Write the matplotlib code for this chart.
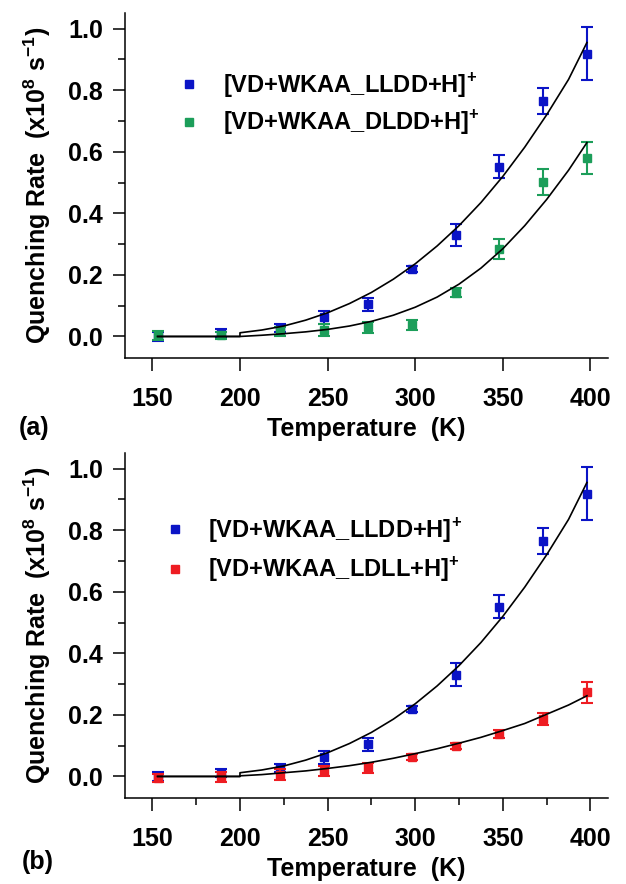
import numpy as np
import matplotlib
matplotlib.use('Agg')
import matplotlib.pyplot as plt
from matplotlib.ticker import MultipleLocator

plt.rcParams['font.family'] = ['Liberation Sans', 'DejaVu Sans']
plt.rcParams['font.weight'] = 'bold'
plt.rcParams['mathtext.fontset'] = 'custom'
plt.rcParams['mathtext.rm'] = 'Liberation Sans:bold'
plt.rcParams['mathtext.bf'] = 'Liberation Sans:bold'

# measured temperatures (K)
temps = [153, 189, 223, 248, 273, 298, 323, 348, 373, 398]

# quenching rates (x10^8 s^-1) and error bars
lldd = [0.0, 0.01, 0.028, 0.062, 0.104, 0.22, 0.33, 0.552, 0.765, 0.919]
lldd_err = [0.015, 0.013, 0.012, 0.02, 0.022, 0.01, 0.037, 0.036, 0.042, 0.085]
dldd = [0.004, 0.004, 0.017, 0.022, 0.03, 0.037, 0.142, 0.284, 0.503, 0.58]
dldd_err = [0.015, 0.012, 0.015, 0.02, 0.018, 0.015, 0.015, 0.032, 0.042, 0.051]
ldll = [-0.006, -0.002, 0.006, 0.018, 0.028, 0.063, 0.098, 0.138, 0.187, 0.273]
ldll_err = [0.013, 0.015, 0.018, 0.015, 0.017, 0.01, 0.01, 0.012, 0.02, 0.035]

# fit curves
fit_T = [153, 200, 200, 212.5, 225, 237.5, 250, 262.5, 275, 287.5, 300,
         312.5, 325, 337.5, 350, 362.5, 375, 387.5, 398]
fit_lldd = [0, 0, 0.012, 0.021, 0.034, 0.053, 0.077, 0.107, 0.143, 0.186, 0.236,
            0.294, 0.36, 0.435, 0.52, 0.615, 0.72, 0.835, 0.955]
fit_dldd = [0, 0, 0.0, 0.004, 0.009, 0.015, 0.023, 0.034, 0.049, 0.069, 0.095,
            0.128, 0.17, 0.222, 0.285, 0.36, 0.445, 0.54, 0.63]
fit_ldll = [0, 0, 0.002, 0.006, 0.012, 0.018, 0.026, 0.035, 0.046, 0.059, 0.074,
            0.09, 0.108, 0.127, 0.149, 0.172, 0.202, 0.232, 0.262]

blue = '#0B14C6'
green = '#1C9E5A'
red = '#EE1C22'

lab_lldd = r'[VD+WKAA_LLDD+H]$^{+}$'
lab_dldd = r'[VD+WKAA_DLDD+H]$^{+}$'
lab_ldll = r'[VD+WKAA_LDLL+H]$^{+}$'

fig = plt.figure(figsize=(6.26, 8.84), dpi=100)
ax1 = fig.add_axes([0.1997, 0.595, 0.7715, 0.390])
ax2 = fig.add_axes([0.1997, 0.0973, 0.7715, 0.390])


def style(ax, minor_x):
    ax.set_xlim(134.4, 410)
    ax.set_ylim(-0.07, 1.05)
    ax.spines['top'].set_visible(False)
    ax.spines['right'].set_visible(False)
    for s in ['left', 'bottom']:
        ax.spines[s].set_linewidth(1.1)
    ax.xaxis.set_major_locator(MultipleLocator(50))
    ax.yaxis.set_major_locator(MultipleLocator(0.2))
    ax.yaxis.set_minor_locator(MultipleLocator(0.1))
    if minor_x:
        ax.xaxis.set_minor_locator(MultipleLocator(25))
    ax.yaxis.set_major_formatter(matplotlib.ticker.FormatStrFormatter('%.1f'))
    ax.tick_params(which='major', direction='out', length=9, width=1.1, labelsize=18)
    ax.tick_params(which='minor', direction='out', length=5, width=1.1)
    ax.tick_params(axis='y', which='major', pad=7)
    ax.tick_params(axis='x', which='major', pad=12)
    ax.set_xlabel('Temperature  (K)', fontsize=18, fontweight='bold', labelpad=4)
    ax.set_ylabel(r'Quenching Rate  (x10$^{8}$ s$^{-1}$)', fontsize=18, fontweight='bold')
    ax.yaxis.set_label_coords(-0.149, 0.5)


def series(ax, y, err, color, label):
    ax.errorbar(temps, y, yerr=err, fmt='none', ecolor=color,
                elinewidth=1.5, capsize=4.5, capthick=1.5)
    ax.plot(temps, y, 's', color=color, ms=6, label=label)


# panel (a)
series(ax1, lldd, lldd_err, blue, lab_lldd)
series(ax1, dldd, dldd_err, green, lab_dldd)
ax1.plot(fit_T, fit_lldd, color='black', lw=1.2)
ax1.plot(fit_T, fit_dldd, color='black', lw=1.2)
style(ax1, False)
ax1.legend(loc='upper left', bbox_to_anchor=(0.065, 0.895), frameon=False,
           fontsize=17, handletextpad=0.9, labelspacing=0.35, handlelength=1.0,
           markerscale=0.9)

# panel (b)
series(ax2, lldd, lldd_err, blue, lab_lldd)
series(ax2, ldll, ldll_err, red, lab_ldll)
ax2.plot(fit_T, fit_lldd, color='black', lw=1.2)
ax2.plot(fit_T, fit_ldll, color='black', lw=1.2)
style(ax2, True)
ax2.legend(loc='upper left', bbox_to_anchor=(0.035, 0.88), frameon=False,
           fontsize=17, handletextpad=0.9, labelspacing=0.45, handlelength=1.0,
           markerscale=0.9)

fig.text(0.03, 1 - 428 / 884, '(a)', fontsize=18, fontweight='bold', va='center')
fig.text(0.035, 1 - 862 / 884, '(b)', fontsize=18, fontweight='bold', va='center')

fig.savefig('out.png', dpi=100)
